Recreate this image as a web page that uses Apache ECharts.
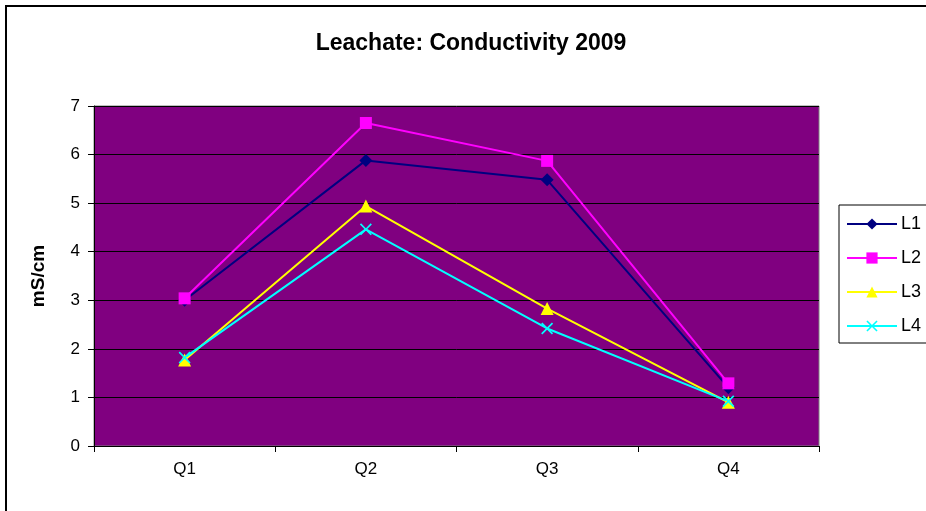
<!DOCTYPE html>
<html>
<head>
<meta charset="utf-8">
<script src="https://cdn.jsdelivr.net/npm/echarts@6/dist/echarts.min.js"></script>
<style>
  html, body { margin: 0; padding: 0; background: #fff; }
  #chart { width: 926px; height: 511px; }
</style>
</head>
<body>
<div id="chart"></div>
<script>
// quarters and conductivity readings (mS/cm)
var quarters = ['Q1', 'Q2', 'Q3', 'Q4'];
var l1 = [3.0, 5.88, 5.48, 1.2];
var l2 = [3.04, 6.65, 5.87, 1.29];
var l3 = [1.77, 4.94, 2.83, 0.9];
var l4 = [1.82, 4.46, 2.42, 0.92];

var xMark = 'path://M0,1L1,0L5,4L9,0L10,1L6,5L10,9L9,10L5,6L1,10L0,9L4,5Z';
var font = 'Liberation Sans, Arial, sans-serif';

function mkSeries(name, data, color, symbol, size) {
  return {
    name: name,
    type: 'line',
    data: data,
    symbol: symbol,
    symbolSize: size,
    showAllSymbol: true,
    lineStyle: { color: color, width: 2 },
    itemStyle: { color: color, opacity: 1 },
    emphasis: { disabled: true },
    animation: false
  };
}

var myChart = echarts.init(document.getElementById('chart'));
myChart.setOption({
  backgroundColor: '#fff',
  title: {
    text: 'Leachate: Conductivity 2009',
    left: 466,
    textAlign: 'center',
    top: 27,
    textStyle: { fontFamily: font, fontSize: 23, fontWeight: 'bold', color: '#000' }
  },
  graphic: [{
    type: 'rect',
    shape: { x: 6, y: 6, width: 940, height: 540 },
    style: { fill: 'none', stroke: '#000', lineWidth: 2 },
    z: -1
  }],
  legend: {
    orient: 'vertical',
    left: 839,
    top: 205,
    itemWidth: 50,
    itemHeight: 14,
    itemGap: 16,
    padding: [10, 40, 8, 7],
    borderColor: '#000',
    borderWidth: 1,
    textStyle: { fontFamily: font, fontSize: 18, color: '#000', padding: [0, 0, 0, -1] },
    data: ['L1', 'L2', 'L3', 'L4']
  },
  grid: {
    left: 94,
    top: 106,
    right: 107,
    bottom: 65,
    show: true,
    backgroundColor: '#800080',
    borderColor: '#808080',
    borderWidth: 1
  },
  xAxis: {
    type: 'category',
    data: quarters,
    boundaryGap: true,
    axisLine: { lineStyle: { color: '#000', width: 1 } },
    axisTick: { show: true, length: 6, lineStyle: { color: '#000' } },
    axisLabel: { fontFamily: font, fontSize: 17, color: '#000', margin: 15 },
    splitLine: { show: false }
  },
  yAxis: {
    type: 'value',
    min: 0,
    max: 7,
    interval: 1,
    name: 'mS/cm',
    nameLocation: 'middle',
    nameGap: 46,
    nameRotate: 90,
    nameTextStyle: { fontFamily: font, fontSize: 19, fontWeight: 'bold', color: '#000' },
    axisLine: { show: true, lineStyle: { color: '#000', width: 1 } },
    axisTick: { show: true, length: 6, lineStyle: { color: '#000' } },
    axisLabel: { fontFamily: font, fontSize: 17, color: '#000', margin: 14 },
    splitLine: { show: true, lineStyle: { color: '#000', width: 1 } }
  },
  series: [
    mkSeries('L1', l1, '#000080', 'diamond', 13),
    mkSeries('L2', l2, '#ff00ff', 'rect', 12),
    mkSeries('L3', l3, '#ffff00', 'triangle', 13),
    mkSeries('L4', l4, '#00ffff', xMark, 12)
  ]
});
</script>
</body>
</html>
